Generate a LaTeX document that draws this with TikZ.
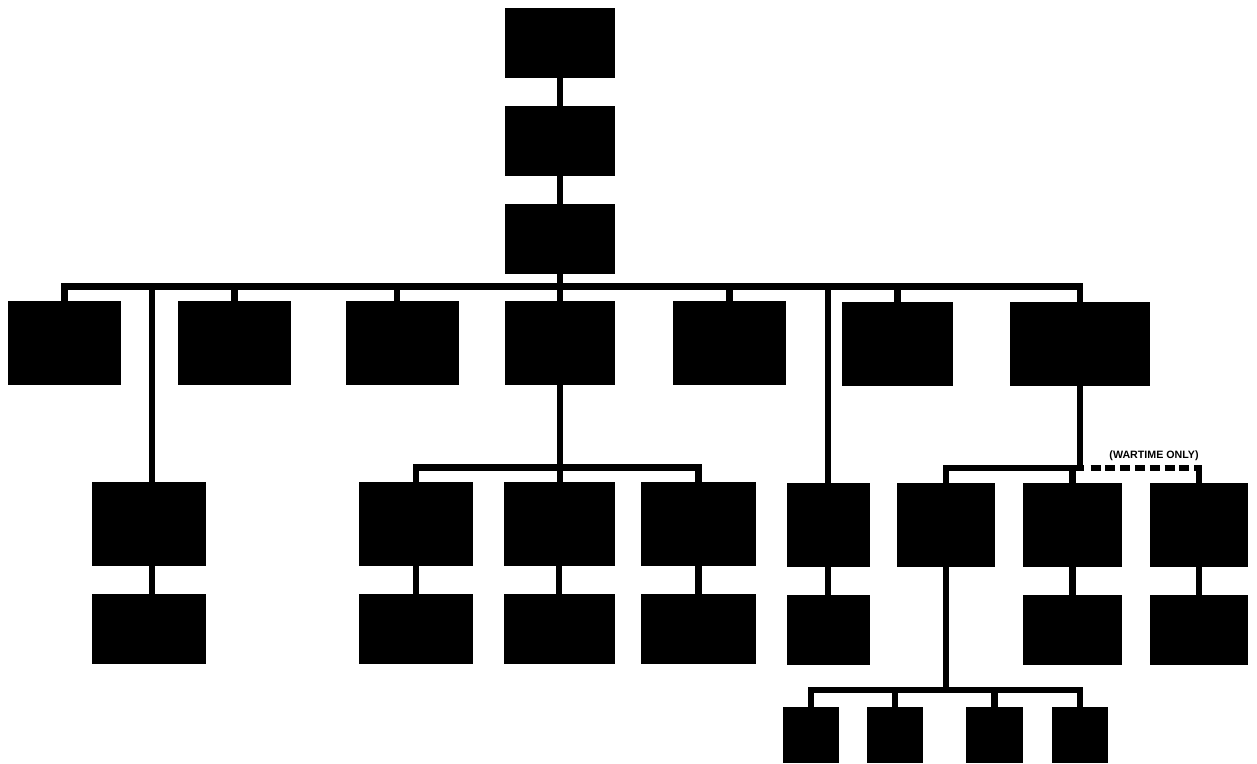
\documentclass[tikz,border=0pt]{standalone}
\usepackage{fontspec}
\newfontfamily\labelfont{Liberation Sans}
\begin{document}
\begin{tikzpicture}[x=0.75pt,y=-0.75pt,
  orgbox/.style 2 args={rectangle,fill=black,draw=none,inner sep=0pt,outer sep=0pt,
     minimum width=#1*0.75pt,minimum height=#2*0.75pt},
  conn/.style={line width=5.2pt,line join=miter,line cap=butt},
  wartime/.style={line width=4.2pt,dash pattern=on 7.5pt off 3.6pt},
  note/.style={font=\labelfont\bfseries\fontsize{8}{9.5}\selectfont,inner sep=0pt}]
\useasboundingbox (0,0) rectangle (1257,764);
% top column
\node[orgbox={110}{70}] (T1) at (560,43) {};
\node[orgbox={110}{70}] (T2) at (560,141) {};
\node[orgbox={110}{70}] (T3) at (560,238.5) {};
% row 2
\node[orgbox={113}{84}] (A) at (64.5,343) {};
\node[orgbox={113}{84}] (B) at (234.5,343) {};
\node[orgbox={113}{84}] (C) at (402,343) {};
\node[orgbox={110}{84}] (D) at (560,343) {};
\node[orgbox={113}{84}] (E) at (729.5,343) {};
\node[orgbox={111}{84}] (F) at (897.5,344) {};
\node[orgbox={140}{84}] (G) at (1080,344) {};
% row 3
\node[orgbox={114}{84}] (H) at (149,524) {};
\node[orgbox={114}{84}] (J) at (416,524) {};
\node[orgbox={111}{84}] (K) at (559,524) {};
\node[orgbox={115}{84}] (L) at (698.5,524) {};
\node[orgbox={83}{84}] (M) at (828,524.5) {};
\node[orgbox={98}{84}] (N) at (946,524.5) {};
\node[orgbox={99}{84}] (O) at (1072.5,524.5) {};
\node[orgbox={98}{84}] (P) at (1199,524.5) {};
% row 4
\node[orgbox={114}{70}] (H2) at (149,628.5) {};
\node[orgbox={114}{70}] (J2) at (416,629) {};
\node[orgbox={111}{70}] (K2) at (559,629) {};
\node[orgbox={115}{70}] (L2) at (698.5,629) {};
\node[orgbox={83}{70}] (M2) at (828,630) {};
\node[orgbox={99}{70}] (O2) at (1072.5,630) {};
\node[orgbox={98}{70}] (P2) at (1199,630) {};
% row 5
\node[orgbox={56}{56}] (Q1) at (811,735) {};
\node[orgbox={56}{56}] (Q2) at (895,735) {};
\node[orgbox={57}{56}] (Q3) at (994.5,735) {};
\node[orgbox={56}{56}] (Q4) at (1080,735) {};
% junction points
\coordinate (bus) at (560,286.5);
\coordinate (dsub) at (560,467.5);
\coordinate (gsub) at (1084,468);
\coordinate (qsub) at (946,690);
% top column connectors
\draw[conn] (T1.south) -- (T2.north);
\draw[conn] (T2.south) -- (T3.north);
\draw[conn] (T3.south) -- (D.north);
% main bus
\draw[conn] (A.north) |- (bus);
\draw[conn] (G.north) |- (bus);
\draw[conn] (B.north) -- (B.north |- bus);
\draw[conn] ([xshift=-3.75pt]C.north) -- ([xshift=-3.75pt]C.north |- bus);
\draw[conn] (E.north) -- (E.north |- bus);
\draw[conn] (F.north) -- (F.north |- bus);
\draw[conn] ([xshift=2.25pt]H.north) -- ([xshift=2.25pt]H.north |- bus);
\draw[conn] (M.north) -- (M.north |- bus);
% D branch
\draw[conn] (D.south) -- (D.south |- K.north);
\draw[conn] (J.north) |- (dsub);
\draw[conn] (L.north) |- (dsub);
% G branch
\draw[conn] (G.south) -- (G.south |- gsub);
\draw[conn] (N.north) |- (gsub);
\draw[conn] (O.north) -- (O.north |- gsub);
\coordinate (pc) at (P.north |- gsub);
\draw[wartime] ([xshift=5pt]gsub) -- ([xshift=2.6pt]pc);
\draw[conn] ([yshift=-2pt]pc) -- (P.north);
\node[note] (war) at (1154,456) {(WARTIME ONLY)};
% lower connectors
\draw[conn] ([xshift=2.25pt]H.south) -- ([xshift=2.25pt]H2.north);
\draw[conn] (J.south) -- (J2.north);
\draw[conn] (K.south) -- (K2.north);
\draw[conn] (L.south) -- (L2.north);
\draw[conn] (M.south) -- (M2.north);
\draw[conn] (O.south) -- (O2.north);
\draw[conn] (P.south) -- (P2.north);
% N branch
\draw[conn] (N.south) -- (qsub);
\draw[conn] (Q1.north) |- (qsub);
\draw[conn] (Q4.north) |- (qsub);
\draw[conn] (Q2.north) -- (Q2.north |- qsub);
\draw[conn] (Q3.north) -- (Q3.north |- qsub);
\end{tikzpicture}
\end{document}
